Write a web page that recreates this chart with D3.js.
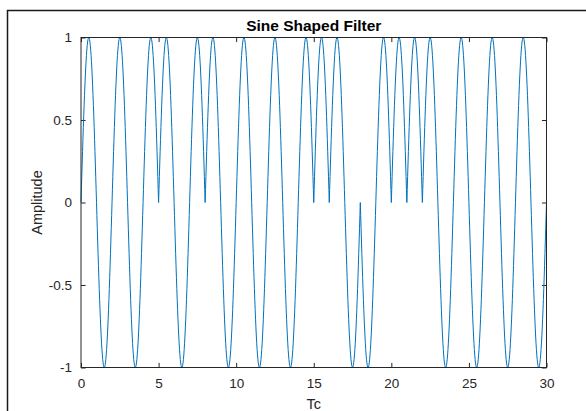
<!DOCTYPE html>
<html>
<head>
<meta charset="utf-8">
<script src="https://cdn.jsdelivr.net/npm/d3@7"></script>
<style>
html,body{margin:0;padding:0;background:#fff;}
svg{display:block;}
text{font-family:"Liberation Sans",Arial,Helvetica,sans-serif;}
</style>
</head>
<body>
<svg id="chart" width="586" height="411"></svg>
<script>
// Chip sequence (one half-sine pulse per chip, sign = chip value)
const chips = [1,-1,1,-1,1,1,-1,1,1,-1,1,-1,1,-1,1,1,1,-1,-1,1,1,1,1,-1,1,-1,1,-1,1,-1];
const xTicks = [0,5,10,15,20,25,30];
const yTicks = [-1,-0.5,0,0.5,1];
const yTickLabels = ["-1","-0.5","0","0.5","1"];
const titleText = "Sine Shaped Filter";
const xLabel = "Tc";
const yLabel = "Amplitude";
const samplesPerChip = 40;

const svg = d3.select("#chart");
const W = 586, H = 411;
const m = {left:81, right:586-546.5, top:37.5, bottom:411-367.5};

// Figure frame
svg.append("path")
  .attr("d", `M7.5,${H} L7.5,10.5 L${W},10.5`)
  .attr("fill","none").attr("stroke","#1a1a1a").attr("stroke-width",1.5);

const x = d3.scaleLinear().domain([0,30]).range([m.left, W-m.right]);
const y = d3.scaleLinear().domain([-1,1]).range([H-m.bottom, m.top]);

// Build waveform points from chips
const pts = [];
chips.forEach((c,k)=>{
  for(let i=0;i<=samplesPerChip;i++){
    if(k>0 && i===0) continue;
    const u = i/samplesPerChip;
    pts.push([k+u, c*Math.sin(Math.PI*u)]);
  }
});

const axisColor = "#262626";
const tickLen = 4.6;

// Axes
const gx = svg.append("g").attr("transform",`translate(0,${y(-1)})`)
  .call(d3.axisBottom(x).tickValues(xTicks).tickSize(-tickLen).tickPadding(11).tickFormat(d3.format("d")));
const gxTop = svg.append("g").attr("transform",`translate(0,${y(1)})`)
  .call(d3.axisTop(x).tickValues(xTicks).tickSize(-tickLen).tickFormat(""));
const gy = svg.append("g").attr("transform",`translate(${x(0)},0)`)
  .call(d3.axisLeft(y).tickValues(yTicks).tickSize(-tickLen).tickPadding(9).tickFormat((d,i)=>yTickLabels[i]));
const gyR = svg.append("g").attr("transform",`translate(${x(30)},0)`)
  .call(d3.axisRight(y).tickValues(yTicks).tickSize(-tickLen).tickFormat(""));

[gx,gxTop,gy,gyR].forEach(g=>{
  g.select(".domain").remove();
  g.selectAll(".tick line").attr("stroke",axisColor).attr("stroke-width",1);
  g.selectAll(".tick text").attr("fill",axisColor).style("font-size","13.5px")
   .style("font-family",'"Liberation Sans",Arial,sans-serif');
});

// Waveform
const line = d3.line().x(d=>x(d[0])).y(d=>y(d[1]));
svg.append("path").datum(pts)
  .attr("d", line)
  .attr("fill","none").attr("stroke","#0072BD").attr("stroke-width",1)
  .attr("stroke-linejoin","round");

// Box
svg.append("rect")
  .attr("x",x(0)).attr("y",y(1))
  .attr("width",x(30)-x(0)).attr("height",y(-1)-y(1))
  .attr("fill","none").attr("stroke",axisColor).attr("stroke-width",1);

// Title
svg.append("text").attr("x",(x(0)+x(30))/2).attr("y",31)
  .attr("text-anchor","middle").attr("fill","#000")
  .style("font-size","15.5px").style("font-weight","bold").text(titleText);

// X label
svg.append("text").attr("x",(x(0)+x(30))/2).attr("y",408.5)
  .attr("text-anchor","middle").attr("fill",axisColor)
  .style("font-size","14.5px").text(xLabel);

// Y label
svg.append("text")
  .attr("transform",`translate(42,${(y(1)+y(-1))/2}) rotate(-90)`)
  .attr("text-anchor","middle").attr("fill",axisColor)
  .style("font-size","14.5px").text(yLabel);
</script>
</body>
</html>
